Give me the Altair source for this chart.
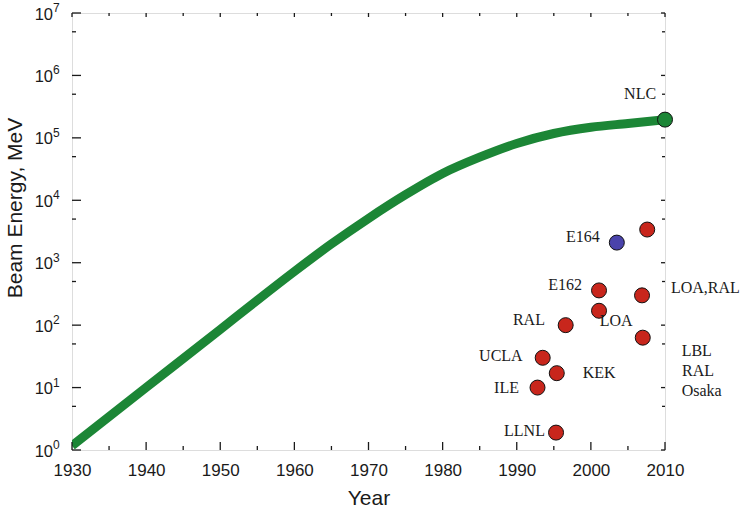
import altair as alt
import pandas as pd

# Trend of conventional accelerator beam energy (green curve)
curve_year = [1930, 1940, 1950, 1955, 1960, 1965, 1970, 1975, 1980, 1985, 1990, 1995, 2000, 2005, 2010]
curve_energy = [1.17, 10, 85, 251, 724, 2000, 5130, 12300, 26900, 49000, 81300, 117500, 148000, 170000, 195000]

# Experiments (filled circles)
exp_year = [2007.6, 2006.9, 2007.0, 2001.1, 2001.1, 1996.6, 1993.5, 1995.4, 1992.8, 1995.3, 2003.5, 2010.0]
exp_energy = [3400, 300, 63, 360, 170, 100, 30, 17, 10, 1.9, 2100, 196000]
exp_color = ["#c8261c"] * 10 + ["#4a43ab", "#1c8636"]

# Annotations
left_text = ["LOA", "KEK", "LOA,RAL", "LBL", "RAL", "Osaka"]
left_year = [2001.2, 1998.9, 2010.8, 2012.25, 2012.3, 2012.25]
left_energy = [116, 17, 397, 39, 18.3, 8.66]

right_text = ["E164", "E162", "RAL", "UCLA", "ILE", "LLNL", "NLC"]
right_year = [2001.2, 1998.8, 1993.8, 1990.8, 1990.3, 1993.8, 2008.8]
right_energy = [2570, 433, 119, 32, 10, 2.0, 498000]

# Axis ticks
decade_years = list(range(1930, 2011, 10))
half_years = list(range(1935, 2010, 10))
decade_energy = [1, 10, 100, 1000, 10000, 100000, 1000000, 10000000]
half_energy = [5, 50, 500, 5000, 50000, 500000, 5000000]
exponents = ["0", "1", "2", "3", "4", "5", "6", "7"]

W, H = 593, 437
SANS = "Liberation Sans"
SERIF = "Liberation Serif"
INK = "#1a1a1a"

xs = alt.Scale(domain=[1930, 2010], nice=False, zero=False)
ys = alt.Scale(type="log", domain=[1, 1e7], nice=False)

X = alt.X(
    "year:Q",
    scale=xs,
    axis=alt.Axis(
        values=decade_years, format="d", ticks=False, tickSize=0, domain=False, grid=False,
        labelFlush=False, labelOverlap=False,
        labelFont=SANS, labelFontSize=17, labelColor=INK, labelPadding=12,
        title="Year", titleFont=SANS, titleFontSize=21, titleFontWeight="normal",
        titleColor=INK, titlePadding=9,
    ),
)
Y = alt.Y("energy:Q", scale=ys, axis=None)

curve_df = pd.DataFrame({"year": curve_year, "energy": curve_energy})
exp_df = pd.DataFrame({"year": exp_year, "energy": exp_energy, "color": exp_color})
left_df = pd.DataFrame({"year": left_year, "energy": left_energy, "label": left_text})
right_df = pd.DataFrame({"year": right_year, "energy": right_energy, "label": right_text})
xmaj = pd.DataFrame({"year": decade_years})
xmin = pd.DataFrame({"year": half_years})
ymaj = pd.DataFrame({"energy": decade_energy, "exp": exponents})
ymin = pd.DataFrame({"energy": half_energy})

line = alt.Chart(curve_df).mark_line(
    color="#1c8636", strokeWidth=9, interpolate="monotone", clip=True, strokeCap="butt"
).encode(x=X, y=Y)

points = alt.Chart(exp_df).mark_circle(
    size=225, opacity=1, stroke="#111111", strokeWidth=1
).encode(x=X, y=Y, color=alt.Color("color:N", scale=None))

lab_l = alt.Chart(left_df).mark_text(
    align="left", baseline="middle", font=SERIF, fontSize=16, color=INK
).encode(x=X, y=Y, text="label:N")
lab_r = alt.Chart(right_df).mark_text(
    align="right", baseline="middle", font=SERIF, fontSize=16, color=INK
).encode(x=X, y=Y, text="label:N")

# inward ticks on all four sides
tick_style = dict(color=INK, strokeWidth=1.3)
bx_maj = alt.Chart(xmaj).mark_rule(**tick_style).encode(x=X, y=alt.value(H), y2=alt.value(H - 8))
bx_min = alt.Chart(xmin).mark_rule(**tick_style).encode(x=X, y=alt.value(H), y2=alt.value(H - 4))
tx_maj = alt.Chart(xmaj).mark_rule(**tick_style).encode(x=X, y=alt.value(0), y2=alt.value(4))
tx_min = alt.Chart(xmin).mark_rule(**tick_style).encode(x=X, y=alt.value(0), y2=alt.value(3))
ly_maj = alt.Chart(ymaj).mark_rule(**tick_style).encode(y=Y, x=alt.value(0), x2=alt.value(9))
ly_min = alt.Chart(ymin).mark_rule(**tick_style).encode(y=Y, x=alt.value(0), x2=alt.value(4))
ry_maj = alt.Chart(ymaj).mark_rule(**tick_style).encode(y=Y, x=alt.value(W), x2=alt.value(W - 4))
ry_min = alt.Chart(ymin).mark_rule(**tick_style).encode(y=Y, x=alt.value(W), x2=alt.value(W - 3))

# y tick labels as 10 with superscript exponent
y_base = alt.Chart(ymaj).mark_text(
    align="right", baseline="alphabetic", dy=6.5, font=SANS, fontSize=16.5, color=INK
).encode(y=Y, x=alt.value(-19), text=alt.value("10"))
y_exp = alt.Chart(ymaj).mark_text(
    align="left", baseline="alphabetic", dy=-1, font=SANS, fontSize=12, color=INK
).encode(y=Y, x=alt.value(-19), text="exp:N")

y_title = alt.Chart(pd.DataFrame({"t": ["Beam Energy, MeV"]})).mark_text(
    angle=270, align="center", baseline="middle", font=SANS, fontSize=21, color=INK
).encode(x=alt.value(-56), y=alt.value(195), text="t:N")

chart = alt.layer(
    line, points, lab_l, lab_r,
    bx_maj, bx_min, tx_maj, tx_min, ly_maj, ly_min, ry_maj, ry_min,
    y_base, y_exp, y_title,
).properties(
    width=W, height=H,
    autosize=alt.AutoSizeParams(type="none"),
    padding={"left": 72, "top": 13, "right": 80, "bottom": 63},
).configure_view(
    stroke=INK, strokeWidth=1.6
).configure(background="white")

chart.save("out.html", embed_options={"renderer": "svg", "actions": False})
